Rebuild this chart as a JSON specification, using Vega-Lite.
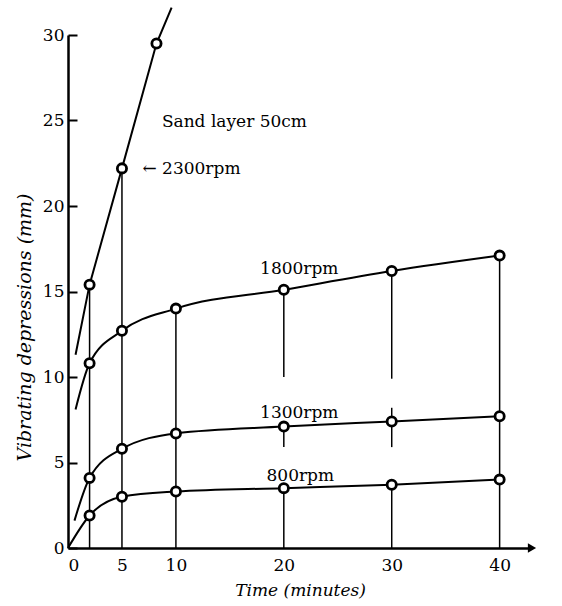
{
  "$schema": "https://vega.github.io/schema/vega-lite/v6.json",
  "autosize": "none",
  "width": 464,
  "height": 513,
  "padding": {"left": 68, "top": 35, "right": 30, "bottom": 58},
  "background": "white",
  "config": {
    "view": {"stroke": null},
    "font": "DejaVu Serif"
  },
  "datasets": {
    "curves": [
      {"series": "2300rpm", "t": 0.7, "d": 11.3, "pt": false},
      {"series": "2300rpm", "t": 2, "d": 15.4, "pt": true},
      {"series": "2300rpm", "t": 5, "d": 22.2, "pt": true},
      {"series": "2300rpm", "t": 8.2, "d": 29.5, "pt": true},
      {"series": "2300rpm", "t": 9.6, "d": 31.6, "pt": false},
      {"series": "1800rpm", "t": 0.7, "d": 8.1, "pt": false},
      {"series": "1800rpm", "t": 2, "d": 10.8, "pt": true},
      {"series": "1800rpm", "t": 5, "d": 12.7, "pt": true},
      {"series": "1800rpm", "t": 10, "d": 14.0, "pt": true},
      {"series": "1800rpm", "t": 20, "d": 15.1, "pt": true},
      {"series": "1800rpm", "t": 30, "d": 16.2, "pt": true},
      {"series": "1800rpm", "t": 40, "d": 17.1, "pt": true},
      {"series": "1300rpm", "t": 0.6, "d": 1.6, "pt": false},
      {"series": "1300rpm", "t": 2, "d": 4.1, "pt": true},
      {"series": "1300rpm", "t": 5, "d": 5.8, "pt": true},
      {"series": "1300rpm", "t": 10, "d": 6.7, "pt": true},
      {"series": "1300rpm", "t": 20, "d": 7.1, "pt": true},
      {"series": "1300rpm", "t": 30, "d": 7.4, "pt": true},
      {"series": "1300rpm", "t": 40, "d": 7.7, "pt": true},
      {"series": "800rpm", "t": 0, "d": 0, "pt": false},
      {"series": "800rpm", "t": 2, "d": 1.9, "pt": true},
      {"series": "800rpm", "t": 5, "d": 3.0, "pt": true},
      {"series": "800rpm", "t": 10, "d": 3.3, "pt": true},
      {"series": "800rpm", "t": 20, "d": 3.5, "pt": true},
      {"series": "800rpm", "t": 30, "d": 3.7, "pt": true},
      {"series": "800rpm", "t": 40, "d": 4.0, "pt": true}
    ],
    "drops": [
      {"t": 2, "lo": 0, "hi": 15.4},
      {"t": 5, "lo": 0, "hi": 22.2},
      {"t": 10, "lo": 0, "hi": 14.0},
      {"t": 20, "lo": 10.0, "hi": 15.1},
      {"t": 20, "lo": 5.9, "hi": 7.1},
      {"t": 20, "lo": 0, "hi": 3.5},
      {"t": 30, "lo": 9.9, "hi": 16.2},
      {"t": 30, "lo": 5.9, "hi": 8.2},
      {"t": 30, "lo": 0, "hi": 3.7},
      {"t": 40, "lo": 0, "hi": 17.1}
    ],
    "labels": [
      {"text": "Sand layer 50cm", "t": 8.7, "d": 24.6},
      {"text": "← 2300rpm", "t": 6.9, "d": 21.9},
      {"text": "1800rpm", "t": 17.8, "d": 16.0},
      {"text": "1300rpm", "t": 17.8, "d": 7.6},
      {"text": "800rpm", "t": 18.4, "d": 3.9}
    ],
    "arrow": [{"t": 43, "d": 0}]
  },
  "layer": [
    {
      "data": {"name": "drops"},
      "mark": {"type": "rule", "color": "black", "strokeWidth": 1.5},
      "encoding": {
        "x": {"field": "t", "type": "quantitative"},
        "y": {"field": "lo", "type": "quantitative"},
        "y2": {"field": "hi"}
      }
    },
    {
      "data": {"name": "curves"},
      "transform": [{"filter": "datum.series !== '2300rpm'"}],
      "mark": {"type": "line", "color": "black", "strokeWidth": 2, "interpolate": "monotone"},
      "encoding": {
        "x": {
          "field": "t", "type": "quantitative",
          "scale": {"domain": [0, 43], "nice": false, "zero": false},
          "axis": {
            "values": [0, 5, 10, 20, 30, 40],
            "title": "Time  (minutes)",
            "titleFont": "DejaVu Serif",
            "titleFontStyle": "italic",
            "titleFontWeight": "normal",
            "titleFontSize": 17,
            "titleColor": "black",
            "titlePadding": 9,
            "labelFont": "DejaVu Serif",
            "labelFontSize": 17,
            "labelColor": "black",
            "labelPadding": 9,
            "ticks": false,
            "grid": false,
            "domainColor": "black",
            "domainWidth": 2.5
          }
        },
        "y": {
          "field": "d", "type": "quantitative",
          "scale": {"domain": [0, 30], "nice": false},
          "axis": {
            "values": [0, 5, 10, 15, 20, 25, 30],
            "title": "Vibrating  depressions  (mm)",
            "titleFont": "DejaVu Serif",
            "titleFontStyle": "italic",
            "titleFontWeight": "normal",
            "titleFontSize": 19,
            "titleColor": "black",
            "titleBaseline": "alphabetic",
            "titleX": -38,
            "titleY": 292,
            "labelFont": "DejaVu Serif",
            "labelFontSize": 17,
            "labelColor": "black",
            "labelPadding": 13,
            "tickSize": -9,
            "tickWidth": 2,
            "tickColor": "black",
            "grid": false,
            "domainColor": "black",
            "domainWidth": 2.5
          }
        },
        "detail": {"field": "series"}
      }
    },
    {
      "data": {"name": "curves"},
      "transform": [{"filter": "datum.series === '2300rpm'"}],
      "mark": {"type": "line", "color": "black", "strokeWidth": 2},
      "encoding": {
        "x": {"field": "t", "type": "quantitative"},
        "y": {"field": "d", "type": "quantitative"}
      }
    },
    {
      "data": {"name": "curves"},
      "transform": [{"filter": "datum.pt"}],
      "mark": {"type": "point", "shape": "circle", "filled": false, "fill": "white", "stroke": "black", "strokeWidth": 2.8, "size": 85, "opacity": 1},
      "encoding": {
        "x": {"field": "t", "type": "quantitative"},
        "y": {"field": "d", "type": "quantitative"}
      }
    },
    {
      "data": {"name": "labels"},
      "mark": {"type": "text", "font": "DejaVu Serif", "fontSize": 17, "color": "black", "align": "left", "baseline": "alphabetic"},
      "encoding": {
        "x": {"field": "t", "type": "quantitative"},
        "y": {"field": "d", "type": "quantitative"},
        "text": {"field": "text"}
      }
    },
    {
      "data": {"name": "arrow"},
      "mark": {"type": "point", "shape": "triangle-right", "filled": true, "color": "black", "size": 90, "opacity": 1},
      "encoding": {
        "x": {"field": "t", "type": "quantitative"},
        "y": {"field": "d", "type": "quantitative"}
      }
    }
  ]
}
